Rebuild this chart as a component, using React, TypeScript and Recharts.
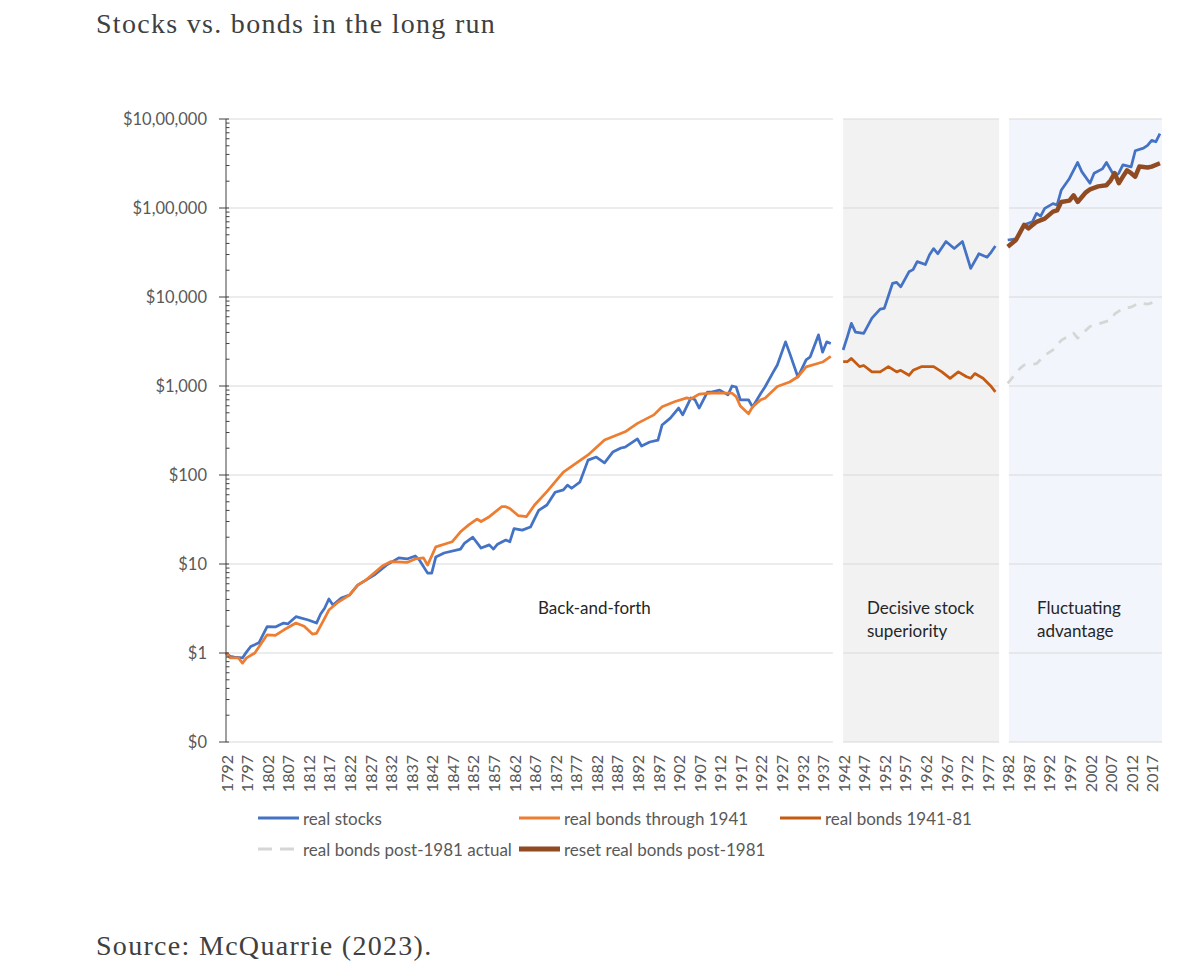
import { LineChart, Line, XAxis, YAxis, ReferenceArea, ReferenceLine } from "recharts";

// Values (log scale, $1 invested in 1792)
const stockYears = [
  1792, 1793, 1794, 1796, 1797, 1798, 1800, 1802, 1804, 1806, 1807, 1809, 1812, 1814, 1815, 1816,
  1817, 1818, 1820, 1822, 1824, 1826, 1828, 1831, 1834, 1836, 1838, 1839, 1841, 1842, 1843, 1845,
  1849, 1850, 1852, 1854, 1856, 1857, 1858, 1860, 1861, 1862, 1864, 1866, 1868, 1870, 1872, 1874,
  1875, 1876, 1878, 1880, 1882, 1884, 1886, 1888, 1889, 1892, 1893, 1895, 1897, 1898, 1900, 1902,
  1903, 1905, 1906, 1907, 1909, 1910, 1912, 1914, 1915, 1916, 1917, 1919, 1920, 1922, 1923, 1925,
  1926, 1928, 1929, 1931, 1933, 1934, 1936, 1937, 1938, 1939, 1940,
  1942, 1943, 1944, 1945, 1947, 1949, 1951, 1952, 1954, 1955, 1956, 1958, 1959, 1960, 1962, 1963,
  1964, 1965, 1967, 1969, 1971, 1973, 1975, 1977, 1978, 1979, 1980,
  1982, 1984, 1986, 1988, 1989, 1990, 1991, 1993, 1994, 1995, 1997, 1999, 2000, 2002, 2003, 2005,
  2006, 2008, 2009, 2010, 2012, 2013, 2015, 2016, 2017, 2018, 2019,
];
const stockValues = [
  1.0, 0.92, 0.9, 0.88, 1.03, 1.18, 1.3, 1.98, 1.96, 2.17, 2.12, 2.56, 2.35, 2.17, 2.74, 3.2,
  4.04, 3.46, 4.15, 4.48, 5.8, 6.6, 7.5, 9.7, 11.7, 11.4, 12.3, 11.1, 7.9, 7.9, 12.0, 13.3,
  14.7, 17.2, 20, 15.1, 16.4, 14.7, 16.7, 18.6, 17.8, 25, 24, 26, 40, 46, 64, 68,
  77, 71, 83, 147, 159, 137, 181, 201, 206, 254, 212, 235, 247, 365, 435, 565,
  474, 734, 700, 565, 855, 855, 900, 795, 1000, 975, 700, 700, 580, 830, 975, 1430,
  1720, 3130, 2340, 1260, 1970, 2130, 3750, 2400, 3130, 3000, null,
  2540, 3540, 5050, 4030, 3900, 5780, 7300, 7450, 14200, 14600, 13000, 19200, 20300, 25000, 23200, 29800,
  35000, 30600, 42000, 35000, 42000, 21000, 30600, 28000, 32000, 37500, null,
  43700, 45000, 64600, 70000, 87000, 81000, 99000, 112000, 108000, 158000, 215000, 325000, 256000, 190000, 246000, 275000,
  325000, 225000, 246000, 305000, 290000, 440000, 470000, 505000, 575000, 555000, 685000,
];

const bondYears = [
  1792, 1793, 1795, 1796, 1797, 1799, 1802, 1804, 1806, 1809, 1811, 1813, 1814, 1816, 1817, 1819,
  1822, 1824, 1826, 1828, 1830, 1832, 1836, 1838, 1840, 1841, 1843, 1846, 1847, 1849, 1851, 1853,
  1854, 1856, 1857, 1859, 1860, 1861, 1863, 1865, 1867, 1870, 1874, 1880, 1884, 1889, 1892, 1896,
  1898, 1901, 1904, 1905, 1907, 1910, 1915, 1916, 1917, 1919, 1920, 1922, 1923, 1926, 1929, 1931,
  1933, 1936, 1937, 1939,
];
const bondValues = [
  1.0, 0.88, 0.88, 0.77, 0.88, 1.0, 1.6, 1.58, 1.81, 2.17, 2.0, 1.63, 1.66, 2.47, 3.04, 3.65,
  4.48, 5.8, 6.6, 7.9, 9.5, 10.6, 10.4, 11.4, 11.7, 9.7, 15.6, 17.2, 17.8, 23, 27.5, 32,
  30, 34, 37, 44, 44, 42, 35, 34, 46, 65, 108, 168, 247, 306, 380, 474,
  585, 665, 735, 715, 810, 830, 830, 760, 595, 487, 585, 700, 730, 985, 1110, 1270,
  1640, 1800, 1860, 2150,
];

const midBondYears = [
  1942, 1943, 1944, 1946, 1947, 1949, 1951, 1953, 1955, 1956, 1958, 1959, 1961, 1962, 1964, 1966,
  1968, 1970, 1972, 1973, 1974, 1976, 1978, 1979,
];
const midBondValues = [
  1875, 1875, 2040, 1650, 1700, 1440, 1440, 1650, 1440, 1500, 1320, 1500, 1650, 1650, 1650, 1440,
  1220, 1440, 1270, 1220, 1380, 1220, 985, 860,
];

const actualBondYears = [1982, 1985, 1986, 1989, 1991, 1993, 1995, 1998, 1999, 2002, 2003, 2007, 2008, 2010, 2012, 2014, 2016, 2019];
const actualBondValues = [1070, 1580, 1720, 1780, 2210, 2540, 3250, 3930, 3450, 4670, 4800, 5500, 6450, 7450, 7700, 8600, 8300, 9200];

const resetBondYears = [
  1982, 1984, 1986, 1987, 1989, 1991, 1993, 1994, 1995, 1997, 1998, 1999, 2001, 2002, 2004, 2006,
  2007, 2008, 2009, 2010, 2011, 2012, 2013, 2014, 2016, 2017, 2019,
];
const resetBondValues = [
  36700, 43700, 64600, 59000, 70000, 76000, 91000, 94000, 117000, 121000, 139000, 117000, 150000, 162000, 175000, 180000,
  204000, 246000, 190000, 225000, 265000, 246000, 225000, 292000, 285000, 292000, 318000,
];

const xTicks = [
  1792, 1797, 1802, 1807, 1812, 1817, 1822, 1827, 1832, 1837, 1842, 1847, 1852, 1857, 1862, 1867,
  1872, 1877, 1882, 1887, 1892, 1897, 1902, 1907, 1912, 1917, 1922, 1927, 1932, 1937, 1942, 1947,
  1952, 1957, 1962, 1967, 1972, 1977, 1982, 1987, 1992, 1997, 2002, 2007, 2012, 2017,
];
const yMajorTicks = [0.1, 1, 10, 100, 1000, 10000, 100000, 1000000];
const yMinorTicks = yMajorTicks.slice(0, -1).flatMap((d) => [2, 3, 4, 5, 6, 7, 8, 9].map((m) => m * d));

// the three eras (start, end) in years
const periods = [
  [1792, 1939.5],
  [1942, 1979.9],
  [1982.3, 2019.5],
];

const toRows = (years: number[], values: (number | null)[]) =>
  years.map((year, i) => ({ year, value: values[i] }));

const SERIES = [
  { name: "real stocks", color: "#4472C4", width: 2.75, dash: undefined, data: toRows(stockYears, stockValues) },
  { name: "real bonds through 1941", color: "#ED7D31", width: 2.75, dash: undefined, data: toRows(bondYears, bondValues) },
  { name: "real bonds 1941-81", color: "#C55A11", width: 2.75, dash: undefined, data: toRows(midBondYears, midBondValues) },
  { name: "real bonds post-1981 actual", color: "#D6D6D6", width: 2.75, dash: "9 8", data: toRows(actualBondYears, actualBondValues) },
  { name: "reset real bonds post-1981", color: "#914B22", width: 4.5, dash: undefined, data: toRows(resetBondYears, resetBondValues) },
];

const FONT = "Lato, 'Open Sans', sans-serif";
const AXIS_GRAY = "#595959";
const SERIF = "'Liberation Serif', serif";

// indian style grouping, as in the original axis
function money(v: number) {
  if (v < 1) return "$0";
  const s = String(Math.round(v));
  if (s.length <= 3) return "$" + s;
  const last3 = s.slice(-3);
  let rest = s.slice(0, -3);
  const parts: string[] = [];
  while (rest.length > 2) {
    parts.unshift(rest.slice(-2));
    rest = rest.slice(0, -2);
  }
  if (rest) parts.unshift(rest);
  return "$" + parts.join(",") + "," + last3;
}

function YTick(props: any) {
  const { x, y, payload } = props;
  const major = yMajorTicks.includes(payload.value);
  return (
    <g>
      <line x1={major ? x - 7 : x} x2={major ? x + 3 : x + 3.5} y1={y} y2={y} stroke="#404040" strokeWidth={1} />
      {major && (
        <text x={x - 19} y={y} dy="0.35em" textAnchor="end" fill={AXIS_GRAY} fontSize={16.5} fontFamily={FONT}>
          {money(payload.value)}
        </text>
      )}
    </g>
  );
}

function XTick(props: any) {
  const { x, y, payload } = props;
  const ty = y + 13;
  return (
    <text
      x={x}
      y={ty}
      transform={`rotate(-90, ${x}, ${ty})`}
      textAnchor="end"
      dominantBaseline="central"
      fill={AXIS_GRAY}
      fontSize={16}
      fontFamily={FONT}
    >
      {payload.value}
    </text>
  );
}

function LegendItem({ s }: { s: (typeof SERIES)[number] }) {
  return (
    <div style={{ display: "flex", alignItems: "center" }}>
      <svg width={41} height={10} style={{ display: "block" }}>
        <line x1={0} x2={41} y1={5} y2={5} stroke={s.color} strokeWidth={s.width === 4.5 ? 5 : 3} strokeDasharray={s.dash ? "14 8" : undefined} />
      </svg>
      <span style={{ marginLeft: 4, whiteSpace: "nowrap" }}>{s.name}</span>
    </div>
  );
}

const legendRows = [
  [0, 1, 2],
  [3, 4],
];

const eraStyle = { position: "absolute" as const, fontFamily: FONT, fontSize: 17, lineHeight: "23px", color: "#262626" };

export default function App() {
  return (
    <div style={{ position: "relative", width: 1184, height: 962, background: "#fff" }}>
      <div
        style={{
          position: "absolute",
          left: 88,
          top: -1,
          fontFamily: SERIF,
          fontSize: 28,
          letterSpacing: 1.3,
          lineHeight: "34px",
          color: "#404040",
          whiteSpace: "nowrap",
        }}
      >
        Stocks vs. bonds in the long run
      </div>

      <div style={{ position: "absolute", left: 0, top: 0 }}>
        <LineChart width={1184} height={820} margin={{ top: 111, right: 30, bottom: 26, left: 158 }}>
          <ReferenceArea x1={periods[1][0]} x2={periods[1][1]} fill="#000" fillOpacity={0.05} stroke="none" ifOverflow="visible" />
          <ReferenceArea x1={periods[2][0]} x2={periods[2][1]} fill="#4472C4" fillOpacity={0.07} stroke="none" ifOverflow="visible" />
          {yMajorTicks.map((v) =>
            periods.map(([a, b]) => (
              <ReferenceLine
                key={`g-${v}-${a}`}
                segment={[
                  { x: a, y: v },
                  { x: b, y: v },
                ]}
                stroke="#D9D9D9"
                strokeWidth={1}
                ifOverflow="visible"
              />
            ))
          )}
          <XAxis
            dataKey="year"
            type="number"
            domain={[1792, 2019.5]}
            ticks={xTicks}
            interval={0}
            axisLine={false}
            tickLine={false}
            tickSize={0}
            tickMargin={0}
            height={60}
            tick={<XTick />}
          />
          <YAxis
            type="number"
            scale="log"
            domain={[0.1, 1000000]}
            allowDataOverflow
            ticks={[...yMajorTicks, ...yMinorTicks]}
            interval={0}
            axisLine={{ stroke: "#404040", strokeWidth: 1 }}
            tickLine={false}
            tickSize={0}
            tickMargin={0}
            width={60}
            tick={<YTick />}
          />
          {SERIES.map((s) => (
            <Line
              key={s.name}
              data={s.data}
              dataKey="value"
              name={s.name}
              type="linear"
              stroke={s.color}
              strokeWidth={s.width}
              strokeDasharray={s.dash}
              strokeLinejoin="round"
              dot={false}
              activeDot={false}
              isAnimationActive={false}
            />
          ))}
        </LineChart>
      </div>

      {/* era labels */}
      <div style={{ ...eraStyle, left: 530, top: 588 }}>Back-and-forth</div>
      <div style={{ ...eraStyle, left: 859, top: 588 }}>
        Decisive stock
        <br />
        superiority
      </div>
      <div style={{ ...eraStyle, left: 1029, top: 588 }}>
        Fluctuating
        <br />
        advantage
      </div>

      {/* legend */}
      {legendRows.map((row, r) => (
        <div key={r} style={{ position: "absolute", top: 800 + r * 31, left: 0, height: 20, fontFamily: FONT, fontSize: 17, color: AXIS_GRAY }}>
          {row.map((idx, c) => (
            <div key={idx} style={{ position: "absolute", left: 250 + c * 261, top: 0, height: 20, display: "flex", alignItems: "center" }}>
              <LegendItem s={SERIES[idx]} />
            </div>
          ))}
        </div>
      ))}

      <div
        style={{
          position: "absolute",
          left: 88,
          top: 921,
          fontFamily: SERIF,
          fontSize: 28,
          letterSpacing: 1.3,
          lineHeight: "34px",
          color: "#404040",
          whiteSpace: "nowrap",
        }}
      >
        Source: McQuarrie (2023).
      </div>
    </div>
  );
}
